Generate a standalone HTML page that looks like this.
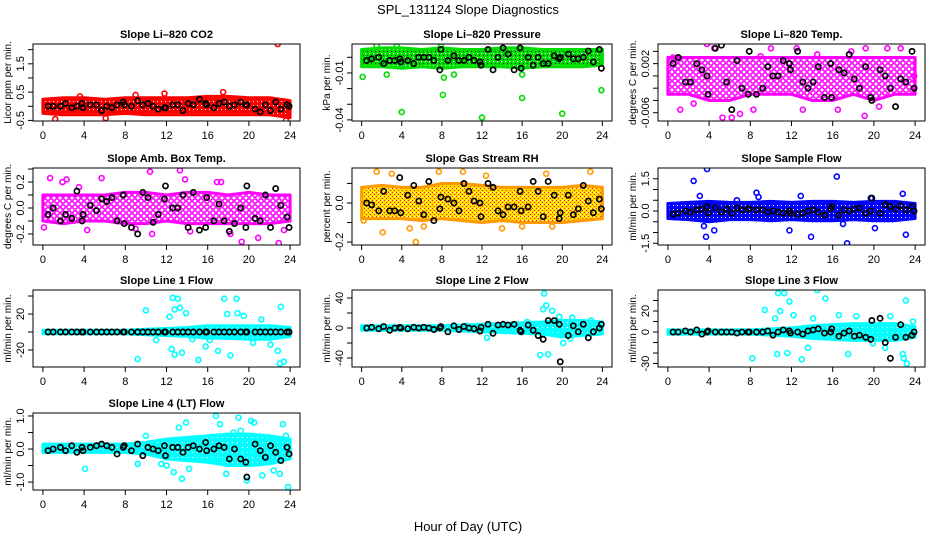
<!DOCTYPE html>
<html><head><meta charset="utf-8"><style>
html,body{margin:0;padding:0;background:#fff;}
svg{display:block;font-family:"Liberation Sans",sans-serif;}
</style></head><body>
<svg id="chart" width="936" height="540" viewBox="0 0 936 540">
<defs>
<pattern id="p-red" width="4" height="4" patternUnits="userSpaceOnUse"><rect width="4" height="4" fill="#ff0000"/><rect x="1" y="1" width="1" height="1" fill="#fff"/></pattern>
<pattern id="p-green" width="4" height="4" patternUnits="userSpaceOnUse"><rect width="4" height="4" fill="#00dd00"/><rect x="1" y="1" width="1" height="1" fill="#fff"/><rect x="3" y="3" width="1" height="1" fill="#333"/></pattern>
<pattern id="p-magenta" width="6" height="6" patternUnits="userSpaceOnUse"><circle cx="3" cy="3" r="2.2" fill="none" stroke="#ff00ff" stroke-width="1.6"/></pattern>
<pattern id="p-orange" width="4" height="4" patternUnits="userSpaceOnUse"><rect width="4" height="4" fill="#ffdd00"/><rect x="0" y="0" width="1" height="1" fill="#ff2000"/><rect x="2" y="2" width="1" height="1" fill="#ff2000"/><rect x="2" y="0" width="1" height="1" fill="#fff"/></pattern>
<pattern id="p-blue" width="4" height="4" patternUnits="userSpaceOnUse"><rect width="4" height="4" fill="#0000ff"/><rect x="1" y="1" width="1" height="1" fill="#fff"/></pattern>
<pattern id="p-cyan" width="5" height="5" patternUnits="userSpaceOnUse"><rect width="5" height="5" fill="#00ffff"/><rect x="2" y="2" width="1" height="1" fill="#fff"/></pattern>
</defs>
<text x="468" y="14" text-anchor="middle" font-size="13">SPL_131124  Slope Diagnostics</text>
<text x="468" y="531" text-anchor="middle" font-size="13">Hour of Day (UTC)</text>
</svg>
<script>
// shared black-point hours
const blackHours=[0.5,1,1.7,2.2,2.8,3.3,3.8,3.9,4.6,5.2,5.7,6.2,6.7,7.2,7.8,7.9,8.6,9.2,9.7,10.2,10.7,11.2,11.8,11.9,12.6,13.1,13.6,14.1,14.6,15.2,15.8,15.9,16.6,17.1,17.6,18.1,18.6,19.2,19.7,19.8,20.6,21.1,21.6,22.1,22.6,23.1,23.7,23.9];
const bandHours=[0,2,4,6,8,10,12,14,16,18,20,22,24];
const xTicks=[0,4,8,12,16,20,24];

const co2BandHi=[0.25,0.3,0.3,0.25,0.3,0.3,0.3,0.3,0.35,0.35,0.3,0.3,0.2];
const co2BandLo=[-0.25,-0.3,-0.3,-0.3,-0.25,-0.3,-0.3,-0.3,-0.3,-0.3,-0.3,-0.3,-0.4];
const co2OutX=[22.8,1.2,6.1,23.6,17.5,11.8,3.6,9];
const co2OutY=[2.2,-0.45,-0.42,-0.5,0.5,0.45,0.35,0.4];
const co2BlackY=[0,0,0,0.1,-0.05,0,0.1,-0.05,0.05,0.05,-0.15,0,-0.05,0.05,0.15,0.05,0,0.2,0.05,0.1,0,-0.1,-0.05,-0.05,0.05,0.05,-0.15,0.1,0.05,0.25,0.1,0.05,-0.05,0.1,0.15,0,0.05,0.15,0.05,0.05,-0.1,-0.2,0.05,-0.15,0.15,-0.1,0.05,0];

const presBandHi=[0.005,0.006,0.006,0.005,0.006,0.005,0.005,0.006,0.006,0.005,0.005,0.005,0.005];
const presBandLo=[-0.006,-0.006,-0.007,-0.006,-0.007,-0.006,-0.006,-0.006,-0.007,-0.006,-0.006,-0.006,-0.005];
const presOutX=[0.1,2.5,4,8.1,12,16,20,23.9,8.2,1.5,9.2,16,3.5,7.9];
const presOutY=[-0.0125,-0.011,-0.035,-0.024,-0.0385,-0.026,-0.036,-0.021,-0.013,0.0075,-0.011,-0.011,0.007,0.007];
const presBlackY=[-0.002,-0.001,0,-0.004,-0.002,-0.002,-0.001,-0.003,-0.002,-0.004,0,0,0,-0.002,-0.008,0.005,-0.002,0.001,-0.002,-0.002,0,-0.002,-0.003,-0.005,0.005,-0.008,0,0.006,0.002,-0.008,0.006,-0.007,0,-0.005,0,-0.004,-0.004,0.001,-0.001,0,0.002,-0.001,-0.001,0,0.004,-0.003,0.005,-0.007];

const tempBandHi=[0.003,0.003,0.003,0.003,0.003,0.003,0.003,0.003,0.003,0.003,0.003,0.003,0.003];
const tempBandLo=[-0.003,-0.003,-0.004,-0.004,-0.003,-0.003,-0.003,-0.004,-0.004,-0.003,-0.004,-0.003,-0.003];
const tempOutX=[3.8,4.5,0.5,1.2,5.3,6.2,7,10,12.5,16.5,19.1,19.2,21.3,22.6,23.9,14.5,9,2.5,8.3,17.8,13.1,20.5];
const tempOutY=[0.0052,0.0045,0.003,-0.0055,-0.0068,-0.0068,-0.0062,0.0045,0.0045,-0.0055,-0.0065,0.0045,0.0045,0.0045,0,0.0035,0.0032,-0.0045,-0.0055,0.004,-0.0055,-0.005];
const tempBlackY=[0.002,0.003,-0.001,-0.001,0.002,0.001,0,-0.003,0.0045,0.005,-0.001,-0.0055,0.0025,-0.002,-0.003,0.004,-0.003,-0.002,0.0015,0,0,0.0025,0.002,0.001,0.004,-0.001,-0.002,-0.001,0.0015,-0.0035,0.002,-0.0035,0.001,0.0005,0.0035,-0.0005,-0.002,0.0015,-0.0035,-0.004,0.001,0,-0.002,-0.005,-0.0005,-0.001,0.004,-0.002];

const ambBandHi=[0.1,0.1,0.1,0.1,0.12,0.12,0.1,0.12,0.12,0.1,0.12,0.1,0.1];
const ambBandLo=[-0.1,-0.12,-0.1,-0.1,-0.12,-0.12,-0.1,-0.12,-0.12,-0.12,-0.12,-0.12,-0.1];
const ambOutX=[0.7,1.9,2.3,5.7,10.4,13.3,13.8,16.9,17.3,22.9,19.3,20.9,4.3,10.6,0.1,14.3,18.2,23.4,9,3.5];
const ambOutY=[0.23,0.2,0.22,0.23,0.28,0.29,0.22,0.2,0.2,-0.27,-0.26,-0.23,-0.17,-0.2,-0.15,-0.18,-0.2,-0.17,-0.16,0.16];
const ambBlackY=[-0.05,0,-0.1,-0.05,-0.08,0.13,-0.1,-0.05,0.02,-0.02,0.07,0.05,0.08,-0.1,0.1,-0.12,-0.15,-0.2,0.12,0.08,-0.11,-0.05,0.07,0.17,0,0,0.1,-0.15,0.12,-0.17,-0.15,0.08,-0.1,0.03,-0.1,-0.18,-0.12,0,-0.15,0.17,-0.08,-0.1,0.1,-0.15,0.15,0.02,-0.07,-0.15];

const rhBandHi=[0.08,0.09,0.08,0.08,0.1,0.1,0.09,0.08,0.08,0.08,0.08,0.09,0.08];
const rhBandLo=[-0.08,-0.08,-0.08,-0.09,-0.08,-0.09,-0.1,-0.09,-0.1,-0.1,-0.1,-0.09,-0.08];
const rhOutX=[0.2,1.5,2.1,3.0,4.8,5.4,7.7,10.1,14.0,18.4,22.8,16,19,6.2,12.4];
const rhOutY=[-0.09,0.16,-0.15,0.15,-0.13,-0.2,0.16,0.16,-0.13,0.15,0.16,-0.12,-0.12,-0.12,0.14];
const rhBlackY=[0,-0.01,-0.04,0.06,-0.04,-0.04,0.13,-0.05,0.04,0.09,0.01,-0.06,0.11,-0.09,-0.03,0.03,0.02,0,-0.04,0.1,0.06,0.01,0,-0.07,0.1,0.08,-0.04,-0.06,-0.02,-0.02,0.06,-0.04,-0.02,0.11,0.06,-0.07,0.11,0.04,-0.08,-0.05,0.04,-0.06,-0.03,0.09,0.01,-0.05,0.02,-0.03];

const flowBandHi=[0.35,0.4,0.45,0.4,0.4,0.45,0.4,0.45,0.45,0.4,0.45,0.45,0.35];
const flowBandLo=[-0.35,-0.4,-0.5,-0.4,-0.4,-0.45,-0.4,-0.45,-0.45,-0.4,-0.45,-0.45,-0.35];
const flowOutX=[3.8,2.5,3.1,16.4,17.4,13.9,3.7,4.5,8.6,23.1,12.9,22.8,11.8,20.1,17,6.7,3.5,19.7,8.8];
const flowOutY=[1.95,1.4,0.7,1.6,-1.5,-1.2,-1.2,-0.9,0.85,-1.1,0.7,0.8,-0.9,-0.8,-0.6,0.5,-0.7,0.6,0.65];
const flowBlackY=[-0.15,-0.1,0,-0.05,0.05,0.1,0.2,-0.1,0.15,-0.05,0.1,-0.1,0.15,0.05,0.1,0.1,0.05,0.05,-0.05,0,-0.05,-0.1,0,-0.1,-0.15,-0.1,0,0.05,-0.05,-0.2,0.1,0.2,-0.2,0.05,0,0.1,0.15,-0.1,0,0.6,-0.1,0.3,0.2,0.1,0.25,0.05,0.2,0];

const l1BandHi=[2,2,2,2,2,3,4,5,7,7,7,7,5];
const l1BandLo=[-2,-2,-2,-2,-2,-3,-4,-5,-7,-7,-8,-8,-5];
const l1OutX=[9.2,10,12.3,12.5,12.6,12.8,13.1,13.3,13.5,13.9,15.1,15.8,17,17.6,17.9,18.2,18.8,18.9,19.5,22.1,22.8,23,23.1,23.4,12.8,15.6,11,20.4,21.2,16.2,14.5];
const l1OutY=[-30,24,17,-19,38,25,37,27,-23,21,-31,-16,-21,37,20,-26,37,21,18,-14,-21,-35,28,-33,-25,-5,-9,-12,14,-9,-8];
const l1BlackY=[0,0,0,0,0,0,0,0,0,0,0,0,0,0,0,0,0,0,0,0,0,0,0,0,0,0,0,0,0,0,0,0,0,0,0,0,0,0,0,0,0,0,0,0,0,0,0,0];

const l2BandHi=[3,3,3,3,3,4,5,6,7,8,10,10,8];
const l2BandLo=[-3,-3,-3,-3,-3,-4,-5,-6,-7,-8,-12,-10,-8];
const l2OutX=[17.8,18.1,18.2,18.4,18.6,19.0,19.7,20.1,20.3,21,22.9,20.8,12.5,16.5,10.5];
const l2OutY=[-36,25,46,30,-35,23,15,-20,-5,14,10,-14,-13,8,3];
const l2BlackY=[0,1,-1,2,-3,0,1,0,-1,1,0,1,0,-2,0,2,-5,3,-2,2,0,-1,-4,1,5,-7,4,5,4,5,-3,-5,4,-3,-10,-15,10,10,5,-45,-10,3,-5,5,-13,-5,0,5];

const l3BandHi=[2,2,2,2,2,3,4,6,7,8,8,8,5];
const l3BandLo=[-2,-2,-2,-2,-2,-3,-4,-6,-7,-8,-8,-8,-5];
const l3OutX=[8.2,9.4,10.4,10.6,10.7,10.9,11.3,11.6,11.8,12.2,13,13.6,14.1,14.5,15.3,16.6,17.5,18.3,19.9,21.1,21.6,22.8,22.9,23.2,23.1,23.8];
const l3OutY=[-25,21,13,-21,37,20,37,-20,29,16,-26,-15,13,40,32,16,-21,15,-11,-15,15,-21,-25,-30,30,10];
const l3BlackY=[0,0,1,0,2,-2,0,1,0,0,0,0,-1,0,0,0,0,0,1,-3,0,2,1,-1,0,-2,1,2,3,-1,0,3,-4,-1,1,-4,-3,-5,-7,11,13,-10,-25,-5,7,-5,-3,0];

const l4BandHi=[0.15,0.15,0.15,0.15,0.15,0.2,0.3,0.35,0.4,0.45,0.45,0.4,0.3];
const l4BandLo=[-0.1,-0.1,-0.1,-0.1,-0.1,-0.15,-0.3,-0.35,-0.4,-0.5,-0.5,-0.45,-0.3];
const l4OutX=[4.1,9.2,10,12.7,13.2,13.5,13.9,14.2,16.8,17.2,17.8,19,19.2,19.8,20.2,20.5,21.3,22.4,23,23.3,23.8,23.6,12,11.5,15,18.5];
const l4OutY=[-0.6,-0.45,0.4,-0.7,0.65,-0.9,0.8,-0.6,1.0,0.75,-0.75,0.95,0.55,-0.95,0.85,0.8,-0.8,-0.65,-0.75,0.75,-1.15,0.4,-0.5,-0.45,-0.3,0.5];
const l4BlackY=[-0.05,0,0.05,-0.05,0.1,-0.1,0.05,-0.05,0.05,0.1,0.15,0.1,0.05,-0.15,0.05,0.1,-0.05,0.15,-0.2,0.05,0,-0.05,0.1,-0.2,0.05,0.05,-0.1,0.05,0.1,0,0.2,-0.05,0,0.1,0.05,-0.3,0,-0.3,-0.4,-0.85,0.15,-0.05,-0.25,0.1,-0.1,-0.35,0.05,-0.15];

const colsX=[[33,300],[352,612],[658,925]];
const rowsY=[[44,121],[168,245],[290,367],[413,490]];
const NS="http://www.w3.org/2000/svg";
const svg=document.getElementById('chart');
function mk(tag,attrs,parent){const e=document.createElementNS(NS,tag);for(const k in attrs)e.setAttribute(k,attrs[k]);(parent||svg).appendChild(e);return e;}

const panels=[
 {key:'co2',title:'Slope Li\u2013820 CO2',yl:'Licor ppm per min.',col:0,row:0,ylim:[-0.52,2.2],ticks:[-0.5,0,0.5,1,1.5,2],lab:{'-0.5':'-0.5','0.5':'0.5','1.5':'1.5'},color:'#ff0000',fill:'url(#p-red)',hi:co2BandHi,lo:co2BandLo,ox:co2OutX,oy:co2OutY,by:co2BlackY},
 {key:'pressure',title:'Slope Li\u2013820 Pressure',yl:'kPa per min.',col:1,row:0,ylim:[-0.0407,0.0085],ticks:[-0.04,-0.03,-0.02,-0.01,0],lab:{'-0.01':'-0.01','-0.04':'-0.04'},color:'#00dd00',fill:'url(#p-green)',hi:presBandHi,lo:presBandLo,ox:presOutX,oy:presOutY,by:presBlackY},
 {key:'temp',title:'Slope Li\u2013820 Temp.',yl:'degrees C per min.',col:2,row:0,ylim:[-0.00735,0.0052],ticks:[-0.006,-0.004,-0.002,0,0.002,0.004],lab:{'-0.006':'-0.006','0.002':'0.002'},color:'#ff00ff',fill:'url(#p-magenta)',hi:tempBandHi,lo:tempBandLo,ox:tempOutX,oy:tempOutY,by:tempBlackY},
 {key:'amb',title:'Slope Amb. Box Temp.',yl:'degrees C per min.',col:0,row:1,ylim:[-0.285,0.308],ticks:[-0.2,-0.1,0,0.1,0.2,0.3],lab:{'-0.2':'-0.2','0':'0.0','0.2':'0.2'},color:'#ff00ff',fill:'url(#p-magenta)',hi:ambBandHi,lo:ambBandLo,ox:ambOutX,oy:ambOutY,by:ambBlackY},
 {key:'rh',title:'Slope Gas Stream RH',yl:'percent per min.',col:1,row:1,ylim:[-0.215,0.179],ticks:[-0.2,-0.1,0,0.1],lab:{'-0.2':'-0.2','0':'0.0'},color:'#ff9900',fill:'url(#p-orange)',hi:rhBandHi,lo:rhBandLo,ox:rhOutX,oy:rhOutY,by:rhBlackY},
 {key:'sample-flow',title:'Slope Sample Flow',yl:'ml/min per min.',col:2,row:1,ylim:[-1.58,2.0],ticks:[-1.5,-1,-0.5,0,0.5,1,1.5],lab:{'-1.5':'-1.5','0':'0.0','1.5':'1.5'},color:'#0000ff',fill:'url(#p-blue)',hi:flowBandHi,lo:flowBandLo,ox:flowOutX,oy:flowOutY,by:flowBlackY},
 {key:'line1',title:'Slope Line 1 Flow',yl:'ml/min per min.',col:0,row:2,ylim:[-38.9,46.7],ticks:[-20,0,20,40],lab:{'-20':'-20','20':'20'},color:'#00ffff',fill:'url(#p-cyan)',hi:l1BandHi,lo:l1BandLo,ox:l1OutX,oy:l1OutY,by:l1BlackY},
 {key:'line2',title:'Slope Line 2 Flow',yl:'ml/min per min.',col:1,row:2,ylim:[-52,50.7],ticks:[-40,-20,0,20,40],lab:{'-40':'-40','0':'0','40':'40'},color:'#00ffff',fill:'url(#p-cyan)',hi:l2BandHi,lo:l2BandLo,ox:l2OutX,oy:l2OutY,by:l2BlackY},
 {key:'line3',title:'Slope Line 3 Flow',yl:'ml/min per min.',col:2,row:2,ylim:[-33.3,40],ticks:[-30,-20,-10,0,10,20,30],lab:{'-30':'-30','0':'0','20':'20'},color:'#00ffff',fill:'url(#p-cyan)',hi:l3BandHi,lo:l3BandLo,ox:l3OutX,oy:l3OutY,by:l3BlackY},
 {key:'line4',title:'Slope Line 4 (LT) Flow',yl:'ml/min per min.',col:0,row:3,ylim:[-1.24,1.09],ticks:[-1,-0.5,0,0.5,1],lab:{'-1':'-1.0','0':'0.0','1':'1.0'},color:'#00ffff',fill:'url(#p-cyan)',hi:l4BandHi,lo:l4BandLo,ox:l4OutX,oy:l4OutY,by:l4BlackY}
];

panels.forEach(p=>{
 const [L,R]=colsX[p.col],[T,B]=rowsY[p.row];
 const g=mk('g',{});
 
 
 const xs=h=>L+(h+0.96)/25.92*(R-L);
 const ys=v=>B-(v-p.ylim[0])/(p.ylim[1]-p.ylim[0])*(B-T);
 const cid='clip-'+p.key;
 const cp=mk('clipPath',{id:cid},g);mk('rect',{x:L,y:T,width:R-L,height:B-T},cp);
 const pg=mk('g',{'clip-path':'url(#'+cid+')'},g);
 let pts=bandHours.map((h,i)=>xs(h)+','+ys(p.hi[i]));
 for(let i=bandHours.length-1;i>=0;i--)pts.push(xs(bandHours[i])+','+ys(p.lo[i]));
 const band=mk('polygon',{points:pts.join(' '),fill:p.fill,stroke:p.color,'stroke-width':3,'stroke-linejoin':'round'},pg);
 
 
 p.ox.forEach((h,i)=>{
  const c=mk('circle',{cx:xs(h),cy:ys(p.oy[i]),r:2.5,fill:'none',stroke:p.color,'stroke-width':1.6},pg);
  
  
 });
 blackHours.forEach((h,i)=>{
  const c=mk('circle',{cx:xs(h),cy:ys(p.by[i]),r:2.6,fill:'none',stroke:'#000','stroke-width':1.7},pg);
  
  
 });
 mk('rect',{x:L,y:T,width:R-L,height:B-T,fill:'none',stroke:'#000','stroke-width':1},g);
 const t=mk('text',{x:(L+R)/2,y:T-6,'text-anchor':'middle','font-size':11,'font-weight':'bold'},g);t.textContent=p.title;
 
 
 const xa=mk('g',{},g);
 
 
 xTicks.forEach(h=>{
  mk('line',{x1:xs(h),x2:xs(h),y1:B,y2:B+5,stroke:'#000'},xa);
  const tx=mk('text',{x:xs(h),y:B+18,'text-anchor':'middle','font-size':11},xa);tx.textContent=h;
 });
 const ya=mk('g',{},g);
 
 
 p.ticks.forEach(v=>{
  const y=ys(v);
  mk('line',{x1:L-5,x2:L,y1:y,y2:y,stroke:'#000'},ya);
  const s=p.lab[String(v)];
  if(s){const tx=mk('text',{x:L-9,y:y,'text-anchor':'middle','font-size':11,transform:'rotate(-90 '+(L-9)+' '+y+')'},ya);tx.textContent=s;}
 });
 const yt=mk('text',{x:L-22,y:(T+B)/2,'text-anchor':'middle','font-size':10,transform:'rotate(-90 '+(L-22)+' '+((T+B)/2)+')'},g);
 yt.textContent=p.yl;
 
 
});
</script>
</body></html>
